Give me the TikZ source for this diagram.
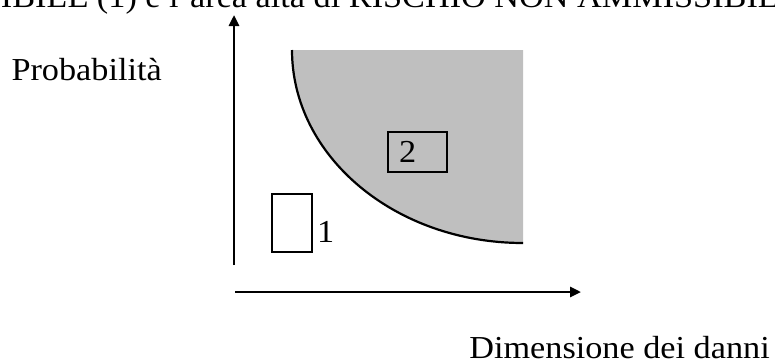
\documentclass[tikz,border=0pt]{standalone}
\usepackage{fontspec}
\setmainfont{Liberation Serif}[FakeStretch=1.07]
\usetikzlibrary{arrows.meta, positioning}

\begin{document}
\begin{tikzpicture}[
    x=1pt, y=-1pt,
    >={Triangle[length=11pt, width=10pt]},
    txt/.style={inner sep=0pt, font=\fontsize{32}{38}\selectfont},
    axis/.style={->, line width=2.6pt},
    box/.style={draw, line width=2pt, inner sep=0pt,
                font=\fontsize{32}{38}\selectfont}
  ]
  \useasboundingbox (0,0) rectangle (775,360);

  % Title (cut at the top edge)
  \node[txt, anchor=base east] (title) at (800,7)
    {RISCHIO AMMISSIBILE (1) e l'area alta di RISCHIO NON AMMISSIBILE};

  % Shaded region
  \fill[black!25] (292,50) -- (523,50) -- (523,243)
    .. controls (395.4,243) and (292,156.6) .. cycle;
  \draw[line width=2.2pt] (292,50)
    .. controls (292,156.6) and (395.4,243) .. (523,243);

  % Axes
  \coordinate (ybot) at (234,265);
  \coordinate (ytop) at (234,15);
  \coordinate (xleft) at (235,292);
  \coordinate (xright) at (581,292);
  \draw[axis] (ybot) -- (ytop);
  \draw[axis] (xleft) -- (xright);

  % Labels
  \node[txt, anchor=base east] (prob) at (162,80) {Probabilità};
  \node[txt, anchor=base east] (dmg) at (770,358) {Dimensione dei danni};

  % Boxes
  \node[box, minimum width=40pt, minimum height=58pt] (box1) at (292,223) {};
  \node[txt, anchor=base west, xshift=4pt, yshift=11pt] (lab1)
    at (box1.south east) {1};
  \node[box, fill=black!25, minimum width=59pt, minimum height=40pt,
        text width=37pt, inner xsep=11pt, align=left] (box2)
    at (417.5,152) {2};
\end{tikzpicture}
\end{document}
